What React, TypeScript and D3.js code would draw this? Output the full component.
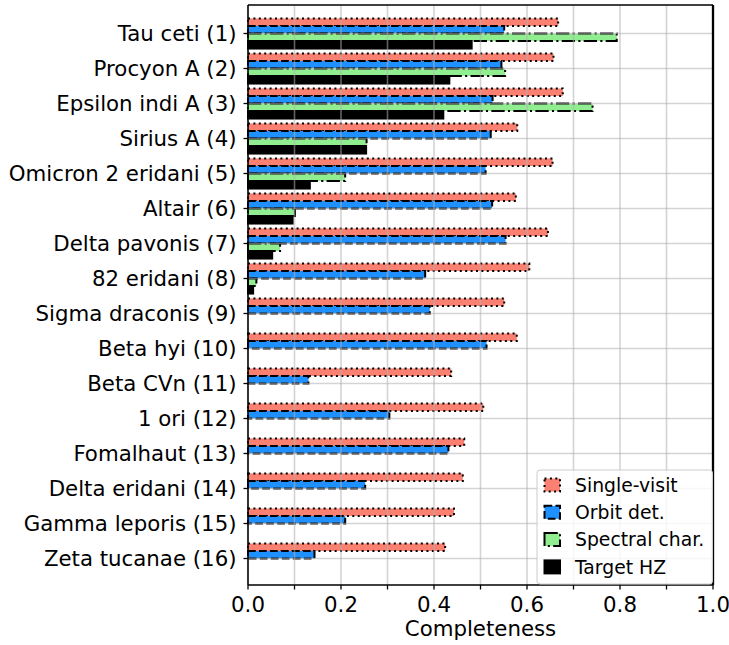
import React from "react";
import * as d3 from "d3";

const stars = [
  "Tau ceti (1)", "Procyon A (2)", "Epsilon indi A (3)", "Sirius A (4)",
  "Omicron 2 eridani (5)", "Altair (6)", "Delta pavonis (7)", "82 eridani (8)",
  "Sigma draconis (9)", "Beta hyi (10)", "Beta CVn (11)", "1 ori (12)",
  "Fomalhaut (13)", "Delta eridani (14)", "Gamma leporis (15)", "Zeta tucanae (16)",
];
const singleVisit = [0.667, 0.657, 0.677, 0.579, 0.655, 0.576, 0.645, 0.605, 0.551, 0.578, 0.437, 0.506, 0.465, 0.462, 0.443, 0.424];
const orbitDet = [0.551, 0.545, 0.526, 0.522, 0.511, 0.525, 0.554, 0.381, 0.391, 0.513, 0.130, 0.304, 0.431, 0.252, 0.209, 0.143];
const spectralChar = [0.793, 0.553, 0.741, 0.255, 0.209, 0.101, 0.069, 0.018, 0, 0, 0, 0, 0, 0, 0, 0];
const targetHZ = [0.481, 0.433, 0.420, 0.254, 0.133, 0.096, 0.052, 0.011, 0, 0, 0, 0, 0, 0, 0, 0];
const xTicks = [0, 0.2, 0.4, 0.6, 0.8, 1.0];
const xMinorTicks = [0.1, 0.3, 0.5, 0.7, 0.9];
const xGrid = [0.1, 0.2, 0.3, 0.4, 0.5, 0.6, 0.7, 0.8, 0.9];

const seriesNames = ["Single-visit", "Orbit det.", "Spectral char.", "Target HZ"];
const seriesColors = ["#FA8072", "#1E90FF", "#90EE90", "#000000"];
const seriesDash = ["2 3.4", "7.7 3.3", "13.3 3.3 2.1 3.3", "none"];
const seriesValues = [singleVisit, orbitDet, spectralChar, targetHZ];

const FONT = "DejaVu Sans, sans-serif";

export default function App() {
  const W = 729, H = 645;
  const left = 248, right = 713, top = 5, bottom = 585;
  const x = d3.scaleLinear().domain([0, 1]).range([left, right]);
  const y = d3.scaleLinear().domain([0, stars.length - 1]).range([33.5, 558.5]);
  const step = y(1) - y(0);
  const barH = step * 0.215;
  const groupTop = -2 * barH;

  return (
    <svg width={W} height={H} style={{ position: "absolute", left: 0, top: 0, background: "#fff" }}>
      {/* bars */}
      {seriesValues.map((vals, s) => (
        <g key={s}>
          {vals.map((v, i) =>
            v > 0 ? (
              <rect
                key={i}
                x={x(0)}
                y={y(i) + groupTop + s * barH}
                width={x(v) - x(0)}
                height={barH}
                fill={seriesColors[s]}
                stroke="#000"
                strokeWidth={2}
                strokeDasharray={seriesDash[s]}
              />
            ) : null
          )}
        </g>
      ))}
      {/* grid on top */}
      <g stroke="#b0b0b0" strokeOpacity={0.55} strokeWidth={1.6}>
        {xGrid.map((t) => (
          <line key={"gx" + t} x1={x(t)} x2={x(t)} y1={top} y2={bottom} />
        ))}
        {stars.map((_, i) => (
          <line key={"gy" + i} x1={left} x2={right} y1={y(i)} y2={y(i)} />
        ))}
      </g>
      {/* spines */}
      <g stroke="#000" fill="none">
        <line x1={left} x2={left} y1={top} y2={bottom} strokeWidth={1.6} />
        <line x1={left} x2={right} y1={bottom} y2={bottom} strokeWidth={1.6} />
        <line x1={left} x2={right} y1={top} y2={top} strokeWidth={1.6} />
        <line x1={right} x2={right} y1={top} y2={bottom} strokeWidth={2.3} />
      </g>
      {/* x ticks */}
      <g stroke="#000" strokeWidth={1.3}>
        {xTicks.concat(xMinorTicks).map((t) => (
          <line key={"xt" + t} x1={x(t)} x2={x(t)} y1={bottom} y2={bottom + 4.5} />
        ))}
      </g>
      <g fontFamily={FONT} fontSize={21.3} fill="#000" textAnchor="middle">
        {xTicks.map((t) => (
          <text key={"xl" + t} x={x(t)} y={611.5}>{t.toFixed(1)}</text>
        ))}
        <text x={(left + right) / 2} y={636}>Completeness</text>
      </g>
      {/* y ticks */}
      <g stroke="#000" strokeWidth={1.3}>
        {stars.map((_, i) => (
          <line key={"yt" + i} x1={left - 4.5} x2={left} y1={y(i)} y2={y(i)} />
        ))}
      </g>
      <g fontFamily={FONT} fontSize={21.3} fill="#000" textAnchor="end">
        {stars.map((s, i) => (
          <text key={"yl" + i} x={236.5} y={y(i) + 7.7}>{s}</text>
        ))}
      </g>
      {/* legend */}
      <g>
        <rect x={537} y={470} width={175.5} height={114} rx={3} fill="#fff" fillOpacity={0.8} stroke="#cccccc" strokeWidth={1} />
        {seriesNames.map((n, s) => {
          const cy = 485 + s * 27.3;
          return (
            <g key={n}>
              <rect x={544.5} y={cy - 6.5} width={15.5} height={13} fill={seriesColors[s]} stroke="#000" strokeWidth={2} strokeDasharray={seriesDash[s]} />
              <text x={575} y={cy + 6.7} fontFamily={FONT} fontSize={18.8} fill="#000">{n}</text>
            </g>
          );
        })}
      </g>
    </svg>
  );
}
